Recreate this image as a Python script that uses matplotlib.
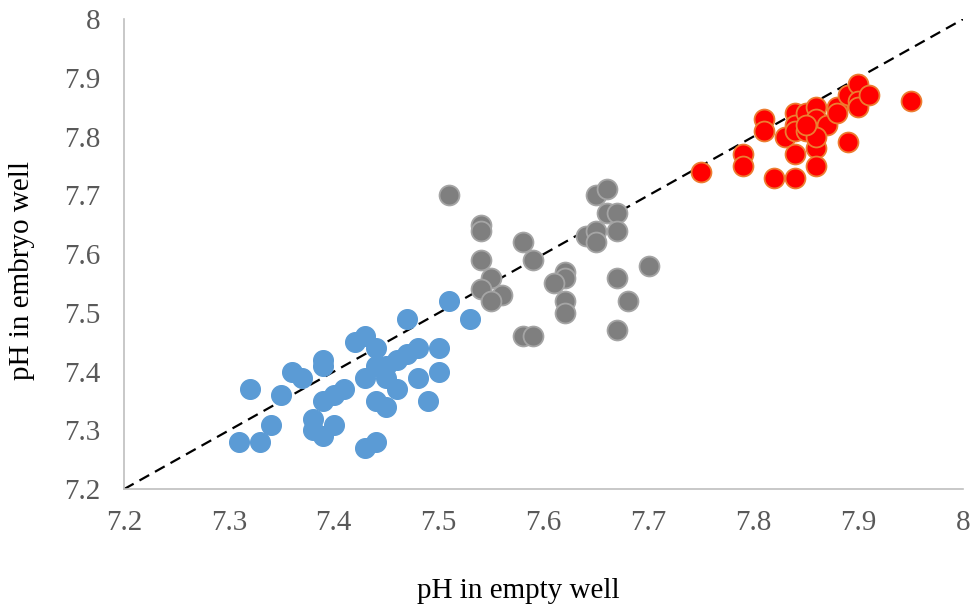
import matplotlib.pyplot as plt

# blue group
blue_x = [7.51, 7.53, 7.47, 7.43, 7.42, 7.44, 7.39, 7.39, 7.36, 7.37, 7.32, 7.35,
          7.34, 7.31, 7.33, 7.38, 7.38, 7.39, 7.40, 7.39, 7.40, 7.41, 7.43, 7.44,
          7.45, 7.43, 7.44, 7.45, 7.44, 7.45, 7.46, 7.47, 7.48, 7.50, 7.50, 7.48,
          7.46, 7.49]
blue_y = [7.52, 7.49, 7.49, 7.46, 7.45, 7.44, 7.42, 7.41, 7.40, 7.39, 7.37, 7.36,
          7.31, 7.28, 7.28, 7.32, 7.30, 7.29, 7.31, 7.35, 7.36, 7.37, 7.39, 7.35,
          7.34, 7.27, 7.28, 7.39, 7.41, 7.41, 7.42, 7.43, 7.44, 7.44, 7.40, 7.39,
          7.37, 7.35]

# gray group
gray_x = [7.51, 7.54, 7.54, 7.58, 7.59, 7.54, 7.55, 7.54, 7.56, 7.55, 7.58, 7.59,
          7.62, 7.62, 7.61, 7.62, 7.62, 7.67, 7.68, 7.67, 7.70, 7.64, 7.65, 7.65,
          7.65, 7.66, 7.66, 7.67, 7.67]
gray_y = [7.70, 7.65, 7.64, 7.62, 7.59, 7.59, 7.56, 7.54, 7.53, 7.52, 7.46, 7.46,
          7.57, 7.56, 7.55, 7.52, 7.50, 7.56, 7.52, 7.47, 7.58, 7.63, 7.64, 7.62,
          7.70, 7.71, 7.67, 7.67, 7.64]

# red group
red_x = [7.75, 7.79, 7.79, 7.81, 7.81, 7.82, 7.84, 7.83, 7.84, 7.84, 7.84, 7.84,
         7.85, 7.86, 7.86, 7.86, 7.86, 7.87, 7.88, 7.88, 7.89, 7.89, 7.90, 7.90,
         7.90, 7.91, 7.95, 7.85, 7.86, 7.85]
red_y = [7.74, 7.77, 7.75, 7.83, 7.81, 7.73, 7.73, 7.80, 7.77, 7.84, 7.82, 7.81,
         7.84, 7.85, 7.83, 7.78, 7.75, 7.82, 7.85, 7.84, 7.79, 7.87, 7.89, 7.86,
         7.85, 7.87, 7.86, 7.81, 7.80, 7.82]

ticks = [7.2, 7.3, 7.4, 7.5, 7.6, 7.7, 7.8, 7.9, 8.0]
tick_labels = ["7.2", "7.3", "7.4", "7.5", "7.6", "7.7", "7.8", "7.9", "8"]

plt.rcParams['font.family'] = ['Liberation Serif', 'DejaVu Serif']

fig = plt.figure(figsize=(9.76, 6.13), dpi=100)
ax = fig.add_axes([0.127, 0.202, 0.860, 0.767])

# line of identity
ax.plot([7.2, 8.0], [7.2, 8.0], color='black', linestyle=(0, (5, 3)),
        linewidth=1.6, zorder=1)

ax.scatter(blue_x, blue_y, s=205, color='#5b9bd5', edgecolors='#5b9bd5',
           linewidths=0.8, zorder=2)
ax.scatter(gray_x, gray_y, s=205, color='#7f7f7f', edgecolors='#a5a5a5',
           linewidths=1.3, zorder=2)
ax.scatter(red_x, red_y, s=205, color='#ff0000', edgecolors='#ed7d31',
           linewidths=1.3, zorder=3)

ax.set_xlim(7.2, 8.0)
ax.set_ylim(7.2, 8.0)
ax.set_xticks(ticks)
ax.set_xticklabels(tick_labels)
ax.set_yticks(ticks)
ax.set_yticklabels(tick_labels)
ax.tick_params(length=0, labelsize=21, labelcolor='#595959')
ax.tick_params(axis='x', pad=15)
ax.tick_params(axis='y', pad=17)

for side in ['top', 'right']:
    ax.spines[side].set_visible(False)
for side in ['left', 'bottom']:
    ax.spines[side].set_color('#bfbfbf')
    ax.spines[side].set_linewidth(1.2)

ax.set_xlabel('pH in empty well', fontsize=21, va='center')
ax.xaxis.set_label_coords(0.470, -0.217)
ax.set_ylabel('pH in embryo well', fontsize=21, va='center')
ax.yaxis.set_label_coords(-0.121, 0.466)

fig.savefig('out.png', dpi=100)
